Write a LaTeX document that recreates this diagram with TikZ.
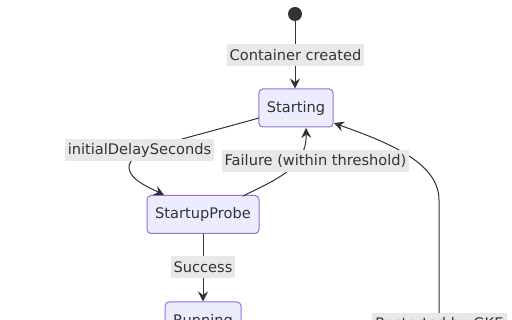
\documentclass[tikz,border=0pt]{standalone}
\usepackage{fontspec}
\setmainfont{DejaVu Sans}
\usetikzlibrary{arrows.meta}
\definecolor{ink}{HTML}{333333}
\definecolor{nodefill}{HTML}{ECECFF}
\definecolor{nodeline}{HTML}{9370DB}
\definecolor{lblbg}{HTML}{E8E8E8}
\tikzset{
  state/.style={draw=nodeline, fill=nodefill, line width=1pt, rounded corners=4pt,
    minimum height=38pt, inner xsep=8pt, text=ink, font=\fontsize{14.6}{16}\selectfont},
  lbl/.style={fill=lblbg, text=ink, inner xsep=3pt, inner ysep=0pt, minimum height=22pt,
    font=\fontsize{14.6}{16}\selectfont},
  edge/.style={draw=ink, line width=1pt, -{Stealth[length=10pt,width=10pt,inset=3.5pt]}},
  startdot/.style={circle, fill=ink, minimum size=14pt, inner sep=0pt}
}
\begin{document}
\begin{tikzpicture}[x=1pt,y=-1pt]
\useasboundingbox (0,0) rectangle (512,320);
\clip (0,0) rectangle (512,320);
\fill[white] (0,0) rectangle (512,320);

\node[startdot] (init) at (295,14) {};
\node[state, minimum width=74pt] (starting) at (296,108) {Starting};
\node[state, minimum width=112pt] (probe) at (203,214.5) {StartupProbe};
\node[state, minimum width=76pt] (running) at (203,321) {Running};

\coordinate (sL) at (259,118);
\coordinate (sB) at (306,128);
\coordinate (sR) at (334,123);
\coordinate (pT1) at (164,195);
\coordinate (pT2) at (243,196);
\coordinate (rb) at (439,340);

\draw[edge] (init) -- (starting.north -| init);
\draw[edge] (sL) .. controls (170,143) and (128,150) .. (129,168)
  .. controls (130,180) and (150,188) .. (pT1);
\draw[edge] (pT2) .. controls (275,180) and (307,168) .. (sB);
\draw[edge] (probe.south) -- (running.north);
\draw[edge] (rb) -- (439,200) .. controls (439,160) and (380,140) .. (sR);

\node[lbl] (l1) at (295.5,55) {Container created};
\node[lbl] (l2) at (139.5,150) {initialDelaySeconds};
\node[lbl] (l3) at (315.5,161) {Failure (within threshold)};
\node[lbl] (l4) at (203,267) {Success};
\node[lbl] (l5) at (439.5,324) {Restarted by GKE};
\end{tikzpicture}
\end{document}
